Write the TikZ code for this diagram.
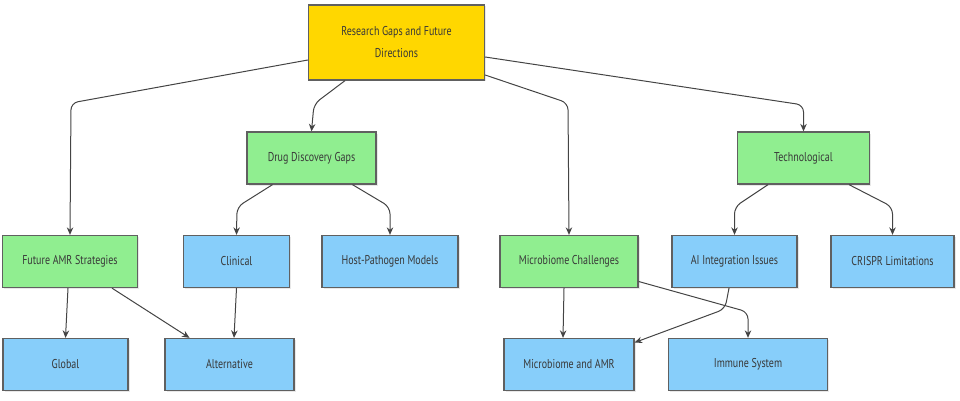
\documentclass[tikz,border=0pt]{standalone}
\usepackage{fontspec}
\setmainfont{PT Sans}[FakeStretch=0.78]
\usetikzlibrary{arrows.meta,shadows}
\definecolor{rootfill}{HTML}{FFD700}
\definecolor{gapfill}{HTML}{90EE90}
\definecolor{leaffill}{HTML}{87CEFA}
\definecolor{edgecol}{HTML}{444444}

\begin{document}
\begin{tikzpicture}[
  x=1pt, y=-1pt,
  box/.style={rectangle,draw=edgecol!85,line width=1.3pt,
              minimum height=52pt, align=center, text=black!78,
              font=\fontsize{12.8}{22}\selectfont,
              drop shadow={opacity=0.18,shadow xshift=1.5pt,shadow yshift=-1.5pt}},
  rootbox/.style={box, fill=rootfill, minimum width=176pt, minimum height=75pt},
  gapbox/.style={box, fill=gapfill},
  leafbox/.style={box, fill=leaffill},
  link/.style={draw=edgecol, line width=1pt, rounded corners=7pt,
               -{Stealth[length=7.5pt,width=6.5pt]}}
]
  \useasboundingbox (0,0) rectangle (960,401);

  \node[rootbox]                        (root)     at (396.5,42.5) {Research Gaps and Future\\Directions};
  \node[gapbox, minimum width=129pt]    (drug)     at (311.5,158)  {Drug Discovery Gaps};
  \node[gapbox, minimum width=132pt]    (tech)     at (803.5,158)  {Technological};
  \node[gapbox, minimum width=135pt]    (future)   at (70,261.5)   {Future AMR Strategies};
  \node[leafbox, minimum width=106pt]   (clinical) at (236.5,261.5) {Clinical};
  \node[leafbox, minimum width=136pt]   (host)     at (390,261.5)  {Host-Pathogen Models};
  \node[gapbox, minimum width=138pt]    (micro)    at (569,261.5)  {Microbiome Challenges};
  \node[leafbox, minimum width=125pt]   (ai)       at (734.5,261.5) {AI Integration Issues};
  \node[leafbox, minimum width=123pt]   (crispr)   at (892.5,261.5) {CRISPR Limitations};
  \node[leafbox, minimum width=125pt]   (global)   at (65.5,364.5) {Global};
  \node[leafbox, minimum width=129pt]   (alt)      at (229.5,364.5) {Alternative};
  \node[leafbox, minimum width=130pt]   (mamr)     at (569,364.5)  {Microbiome and AMR};
  \node[leafbox, minimum width=159pt]   (immune)   at (748,364.5)  {Immune System};

  \draw[link] ([yshift=-17.5pt]root.west) -- (71,103) -- (future.north);
  \draw[link] ([xshift=-51.5pt]root.south) -- (314,104) -- (drug.north);
  \draw[link] ([yshift=-32.5pt]root.east) -- (568,103) -- (micro.north);
  \draw[link] ([yshift=-14.5pt]root.east) -- (803.5,105) -- (tech.north);

  \draw[link] ([xshift=-39pt]drug.south) -- (237,207) -- (clinical.north);
  \draw[link] ([xshift=41pt]drug.south) -- (390,207) -- (host.north);
  \draw[link] ([xshift=-35.5pt]tech.south) -- (734.5,207) -- (ai.north);
  \draw[link] ([xshift=45.5pt]tech.south) -- (892.5,207) -- (crispr.north);

  \draw[link] ([xshift=-2pt]future.south) -- (global.north);
  \draw[link] ([xshift=42pt]future.south) -- ([xshift=-40pt]alt.north);
  \draw[link] (clinical.south) -- ([xshift=4.5pt]alt.north);
  \draw[link] ([xshift=-5pt]micro.south) -- ([xshift=-6pt]mamr.north);
  \draw[link] ([yshift=-20pt]micro.east) -- (748,312) -- (immune.north);
  \draw[link] ([xshift=-5.5pt]ai.south) -- (725,309) -- ([yshift=22pt]mamr.east);
\end{tikzpicture}
\end{document}
